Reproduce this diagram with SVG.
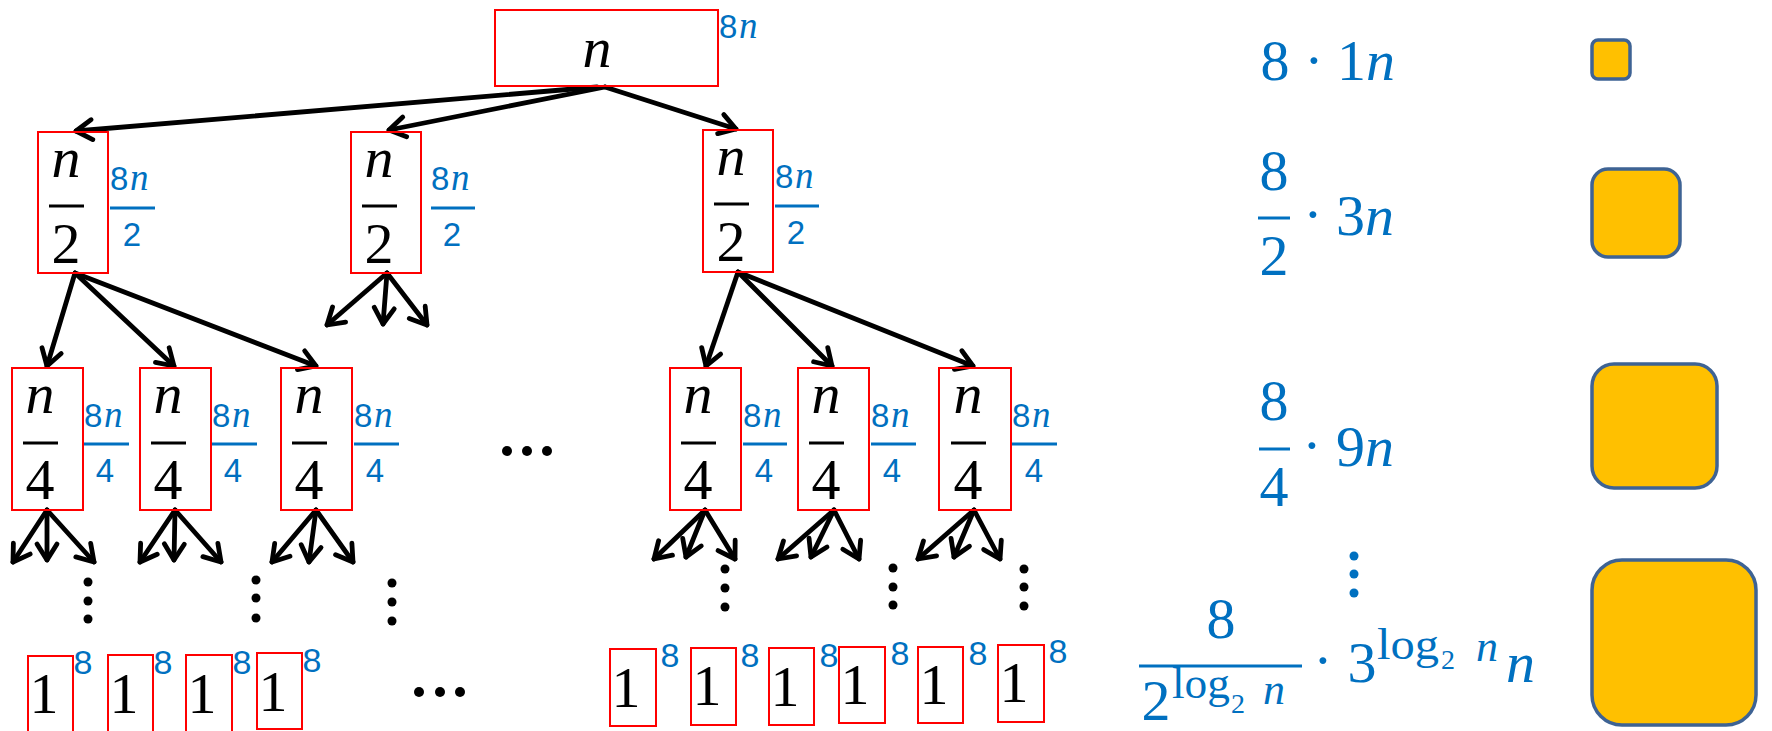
<svg xmlns="http://www.w3.org/2000/svg" width="1772" height="731" viewBox="0 0 1772 731">
  <style>
    .box { fill: none; stroke: #FF0000; stroke-width: 2; }
    .m { font-family: "Liberation Serif", "DejaVu Serif", serif; font-size: 58px; fill: #000; text-anchor: middle; }
    .it { font-style: italic; }
    .sm { font-family: "Liberation Sans", Arial, sans-serif; font-size: 33px; fill: #0070C0; }
    .smi { font-family: "Liberation Serif", serif; font-style: italic; font-size: 37px; fill: #0070C0; }
    .leaf8 { font-family: "Liberation Sans", Arial, sans-serif; font-size: 34px; fill: #0070C0; text-anchor: middle; }
    .bar { stroke: #000; stroke-width: 3; }
    .bbar { stroke: #0070C0; stroke-width: 3; }
    .arrow { fill: none; stroke: #000; stroke-width: 4.8; stroke-linecap: round; marker-end: url(#ah); }
    .dot { fill: #000; }
    .bdot { fill: #0070C0; }
    .sq { fill: #FFC000; stroke: #3E6394; stroke-width: 3.5; }
    .rf { font-family: "Liberation Serif", "DejaVu Serif", serif; fill: #0070C0; }
  </style>
  <defs>
    <marker id="ah" markerUnits="userSpaceOnUse" markerWidth="40" markerHeight="40" viewBox="-20 -20 40 40" refX="0" refY="0" orient="auto" overflow="visible">
      <path d="M-16,-10 L0,0 L-16,10" fill="none" stroke="#000" stroke-width="4.8" stroke-linecap="round" stroke-linejoin="round"/>
    </marker>
  </defs>

  <!-- connectors -->
  <g id="connectors">
    <line class="arrow" x1="597" y1="87" x2="76" y2="131"/>
    <line class="arrow" x1="605" y1="87" x2="389" y2="130"/>
    <line class="arrow" x1="605" y1="87" x2="736" y2="129"/>

    <line class="arrow" x1="75" y1="273" x2="47" y2="366"/>
    <line class="arrow" x1="75" y1="273" x2="174" y2="366"/>
    <line class="arrow" x1="75" y1="273" x2="316" y2="366"/>

    <line class="arrow" x1="387" y1="273" x2="327" y2="325"/>
    <line class="arrow" x1="387" y1="273" x2="383" y2="324"/>
    <line class="arrow" x1="387" y1="273" x2="427" y2="325"/>

    <line class="arrow" x1="738" y1="272" x2="706" y2="366"/>
    <line class="arrow" x1="738" y1="272" x2="832" y2="366"/>
    <line class="arrow" x1="738" y1="272" x2="973" y2="366"/>

    <line class="arrow" x1="47" y1="510" x2="13" y2="562"/>
    <line class="arrow" x1="47" y1="510" x2="47" y2="560"/>
    <line class="arrow" x1="47" y1="510" x2="94" y2="562"/>

    <line class="arrow" x1="175" y1="510" x2="140" y2="562"/>
    <line class="arrow" x1="175" y1="510" x2="174" y2="560"/>
    <line class="arrow" x1="175" y1="510" x2="221" y2="562"/>

    <line class="arrow" x1="316" y1="510" x2="272" y2="562"/>
    <line class="arrow" x1="316" y1="510" x2="309" y2="562"/>
    <line class="arrow" x1="316" y1="510" x2="353" y2="562"/>

    <line class="arrow" x1="705" y1="510" x2="654" y2="559"/>
    <line class="arrow" x1="705" y1="510" x2="686" y2="557"/>
    <line class="arrow" x1="705" y1="510" x2="735" y2="559"/>

    <line class="arrow" x1="834" y1="510" x2="778" y2="559"/>
    <line class="arrow" x1="834" y1="510" x2="811" y2="557"/>
    <line class="arrow" x1="834" y1="510" x2="859" y2="559"/>

    <line class="arrow" x1="974" y1="510" x2="918" y2="559"/>
    <line class="arrow" x1="974" y1="510" x2="954" y2="557"/>
    <line class="arrow" x1="974" y1="510" x2="1000" y2="559"/>
  </g>

  <!-- root -->
  <g id="node-root">
    <rect class="box" x="495" y="10" width="223" height="76"/>
    <text class="m it" x="597" y="67">n</text>
    <text x="719" y="38"><tspan class="sm">8</tspan><tspan class="smi" x="739">n</tspan></text>
  </g>

  <!-- level 1: n/2 -->
  <g id="node-a">
    <rect class="box" x="38" y="132" width="70" height="141"/>
    <text class="m it" x="66" y="177">n</text>
    <line class="bar" x1="49" y1="206" x2="84" y2="206"/>
    <text class="m" x="66" y="263">2</text>
    <text x="110" y="190"><tspan class="sm">8</tspan><tspan class="smi" x="130">n</tspan></text>
    <line class="bbar" x1="110" y1="208" x2="155" y2="208"/>
    <text class="sm" x="132" y="246" text-anchor="middle">2</text>
  </g>
  <g id="node-b">
    <rect class="box" x="351" y="132" width="70" height="141"/>
    <text class="m it" x="379" y="177">n</text>
    <line class="bar" x1="362" y1="206" x2="397" y2="206"/>
    <text class="m" x="379" y="263">2</text>
    <text x="431" y="190"><tspan class="sm">8</tspan><tspan class="smi" x="451">n</tspan></text>
    <line class="bbar" x1="431" y1="208" x2="475" y2="208"/>
    <text class="sm" x="452" y="246" text-anchor="middle">2</text>
  </g>
  <g id="node-c">
    <rect class="box" x="703" y="130" width="70" height="142"/>
    <text class="m it" x="731" y="175">n</text>
    <line class="bar" x1="714" y1="204" x2="749" y2="204"/>
    <text class="m" x="731" y="261">2</text>
    <text x="775" y="188"><tspan class="sm">8</tspan><tspan class="smi" x="795">n</tspan></text>
    <line class="bbar" x1="775" y1="206" x2="819" y2="206"/>
    <text class="sm" x="796" y="244" text-anchor="middle">2</text>
  </g>

  <!-- level 2: n/4 -->
  <g id="node-d">
    <rect class="box" x="12" y="368" width="71" height="142"/>
    <text class="m it" x="40" y="413">n</text>
    <line class="bar" x1="23" y1="443" x2="58" y2="443"/>
    <text class="m" x="40" y="499">4</text>
    <text x="84" y="427"><tspan class="sm">8</tspan><tspan class="smi" x="104">n</tspan></text>
    <line class="bbar" x1="84" y1="444" x2="129" y2="444"/>
    <text class="sm" x="105" y="482" text-anchor="middle">4</text>
  </g>
  <g id="node-e">
    <rect class="box" x="140" y="368" width="71" height="142"/>
    <text class="m it" x="168" y="413">n</text>
    <line class="bar" x1="151" y1="443" x2="186" y2="443"/>
    <text class="m" x="168" y="499">4</text>
    <text x="212" y="427"><tspan class="sm">8</tspan><tspan class="smi" x="232">n</tspan></text>
    <line class="bbar" x1="212" y1="444" x2="257" y2="444"/>
    <text class="sm" x="233" y="482" text-anchor="middle">4</text>
  </g>
  <g id="node-f">
    <rect class="box" x="281" y="368" width="71" height="142"/>
    <text class="m it" x="309" y="413">n</text>
    <line class="bar" x1="292" y1="443" x2="327" y2="443"/>
    <text class="m" x="309" y="499">4</text>
    <text x="354" y="427"><tspan class="sm">8</tspan><tspan class="smi" x="374">n</tspan></text>
    <line class="bbar" x1="354" y1="444" x2="399" y2="444"/>
    <text class="sm" x="375" y="482" text-anchor="middle">4</text>
  </g>
  <g id="node-g">
    <rect class="box" x="670" y="368" width="71" height="142"/>
    <text class="m it" x="698" y="413">n</text>
    <line class="bar" x1="681" y1="443" x2="716" y2="443"/>
    <text class="m" x="698" y="499">4</text>
    <text x="743" y="427"><tspan class="sm">8</tspan><tspan class="smi" x="763">n</tspan></text>
    <line class="bbar" x1="743" y1="444" x2="787" y2="444"/>
    <text class="sm" x="764" y="482" text-anchor="middle">4</text>
  </g>
  <g id="node-h">
    <rect class="box" x="798" y="368" width="71" height="142"/>
    <text class="m it" x="826" y="413">n</text>
    <line class="bar" x1="809" y1="443" x2="844" y2="443"/>
    <text class="m" x="826" y="499">4</text>
    <text x="871" y="427"><tspan class="sm">8</tspan><tspan class="smi" x="891">n</tspan></text>
    <line class="bbar" x1="871" y1="444" x2="916" y2="444"/>
    <text class="sm" x="892" y="482" text-anchor="middle">4</text>
  </g>
  <g id="node-i">
    <rect class="box" x="939" y="368" width="72" height="142"/>
    <text class="m it" x="968" y="413">n</text>
    <line class="bar" x1="951" y1="443" x2="986" y2="443"/>
    <text class="m" x="968" y="499">4</text>
    <text x="1012" y="427"><tspan class="sm">8</tspan><tspan class="smi" x="1032">n</tspan></text>
    <line class="bbar" x1="1012" y1="444" x2="1057" y2="444"/>
    <text class="sm" x="1034" y="482" text-anchor="middle">4</text>
  </g>

  <!-- ellipses between levels -->
  <g id="ellipses">
    <circle class="dot" cx="507" cy="451" r="5"/>
    <circle class="dot" cx="527" cy="451" r="5"/>
    <circle class="dot" cx="547" cy="451" r="5"/>

    <circle class="dot" cx="419" cy="692" r="5"/>
    <circle class="dot" cx="440" cy="692" r="5"/>
    <circle class="dot" cx="460" cy="692" r="5"/>

    <circle class="dot" cx="88" cy="582" r="4.5"/>
    <circle class="dot" cx="88" cy="601" r="4.5"/>
    <circle class="dot" cx="88" cy="619" r="4.5"/>
    <circle class="dot" cx="256" cy="580" r="4.5"/>
    <circle class="dot" cx="256" cy="598" r="4.5"/>
    <circle class="dot" cx="256" cy="618" r="4.5"/>
    <circle class="dot" cx="392" cy="583" r="4.5"/>
    <circle class="dot" cx="392" cy="602" r="4.5"/>
    <circle class="dot" cx="392" cy="621" r="4.5"/>

    <circle class="dot" cx="725" cy="569" r="4.5"/>
    <circle class="dot" cx="725" cy="588" r="4.5"/>
    <circle class="dot" cx="725" cy="607" r="4.5"/>
    <circle class="dot" cx="893" cy="568" r="4.5"/>
    <circle class="dot" cx="893" cy="587" r="4.5"/>
    <circle class="dot" cx="893" cy="605" r="4.5"/>
    <circle class="dot" cx="1024" cy="569" r="4.5"/>
    <circle class="dot" cx="1024" cy="587" r="4.5"/>
    <circle class="dot" cx="1024" cy="606" r="4.5"/>
  </g>

  <!-- leaves -->
  <g id="leaf-1">
    <rect class="box" x="28" y="656" width="45" height="85"/>
    <text class="m" x="44" y="713">1</text>
    <text class="leaf8" x="83" y="674">8</text>
  </g>
  <g id="leaf-2">
    <rect class="box" x="108" y="655" width="45" height="86"/>
    <text class="m" x="124" y="713">1</text>
    <text class="leaf8" x="163" y="674">8</text>
  </g>
  <g id="leaf-3">
    <rect class="box" x="186" y="655" width="46" height="86"/>
    <text class="m" x="202" y="713">1</text>
    <text class="leaf8" x="242" y="674">8</text>
  </g>
  <g id="leaf-4">
    <rect class="box" x="257" y="653" width="45" height="76"/>
    <text class="m" x="273" y="711">1</text>
    <text class="leaf8" x="312" y="672">8</text>
  </g>
  <g id="leaf-5">
    <rect class="box" x="610" y="649" width="46" height="77"/>
    <text class="m" x="626" y="707">1</text>
    <text class="leaf8" x="670" y="667">8</text>
  </g>
  <g id="leaf-6">
    <rect class="box" x="691" y="648" width="45" height="77"/>
    <text class="m" x="707" y="705">1</text>
    <text class="leaf8" x="750" y="667">8</text>
  </g>
  <g id="leaf-7">
    <rect class="box" x="769" y="648" width="45" height="77"/>
    <text class="m" x="785" y="706">1</text>
    <text class="leaf8" x="829" y="667">8</text>
  </g>
  <g id="leaf-8">
    <rect class="box" x="839" y="647" width="46" height="76"/>
    <text class="m" x="855" y="704">1</text>
    <text class="leaf8" x="900" y="665">8</text>
  </g>
  <g id="leaf-9">
    <rect class="box" x="918" y="647" width="45" height="76"/>
    <text class="m" x="934" y="704">1</text>
    <text class="leaf8" x="978" y="665">8</text>
  </g>
  <g id="leaf-10">
    <rect class="box" x="998" y="645" width="46" height="77"/>
    <text class="m" x="1014" y="702">1</text>
    <text class="leaf8" x="1058" y="663">8</text>
  </g>

  <!-- per-level cost sums -->
  <g id="sum-0">
    <text class="rf" font-size="58" text-anchor="middle" x="1275" y="80">8</text>
    <text class="rf" font-size="58" text-anchor="middle" x="1314" y="80">·</text>
    <text class="rf" font-size="58" x="1337" y="80">1<tspan font-style="italic">n</tspan></text>
  </g>
  <g id="sum-1">
    <text class="rf" font-size="58" text-anchor="middle" x="1274" y="190">8</text>
    <line class="bbar" x1="1258" y1="218" x2="1290" y2="218"/>
    <text class="rf" font-size="58" text-anchor="middle" x="1274" y="275">2</text>
    <text class="rf" font-size="58" text-anchor="middle" x="1313" y="234">·</text>
    <text class="rf" font-size="58" x="1336" y="235">3<tspan font-style="italic">n</tspan></text>
  </g>
  <g id="sum-2">
    <text class="rf" font-size="58" text-anchor="middle" x="1274" y="420">8</text>
    <line class="bbar" x1="1259" y1="449" x2="1290" y2="449"/>
    <text class="rf" font-size="58" text-anchor="middle" x="1274" y="506">4</text>
    <text class="rf" font-size="58" text-anchor="middle" x="1312" y="465">·</text>
    <text class="rf" font-size="58" x="1336" y="466">9<tspan font-style="italic">n</tspan></text>
  </g>
  <g id="sum-dots">
    <circle class="bdot" cx="1354" cy="556" r="4.5"/>
    <circle class="bdot" cx="1354" cy="574" r="4.5"/>
    <circle class="bdot" cx="1354" cy="593" r="4.5"/>
  </g>
  <g id="sum-last">
    <text class="rf" font-size="58" text-anchor="middle" x="1221" y="638">8</text>
    <line class="bbar" x1="1139" y1="666" x2="1302" y2="666"/>
    <text class="rf" font-size="58" text-anchor="middle" x="1156" y="720">2</text>
    <text class="rf" font-size="45" x="1172" y="698" textLength="58" lengthAdjust="spacingAndGlyphs">log</text>
    <text class="rf" font-size="28" x="1231" y="713">2</text>
    <text class="rf" font-size="44" font-style="italic" x="1263" y="704">n</text>
    <text class="rf" font-size="58" text-anchor="middle" x="1323" y="680">·</text>
    <text class="rf" font-size="58" text-anchor="middle" x="1362" y="682">3</text>
    <text class="rf" font-size="45" x="1377" y="659" textLength="62" lengthAdjust="spacingAndGlyphs">log</text>
    <text class="rf" font-size="28" x="1441" y="669">2</text>
    <text class="rf" font-size="44" font-style="italic" x="1476" y="661">n</text>
    <text class="rf" font-size="58" font-style="italic" x="1506" y="682">n</text>
  </g>

  <!-- growing squares -->
  <g id="square-0"><rect class="sq" x="1592" y="40" width="38" height="39" rx="6"/></g>
  <g id="square-1"><rect class="sq" x="1592" y="169" width="88" height="88" rx="16"/></g>
  <g id="square-2"><rect class="sq" x="1592" y="364" width="125" height="124" rx="22"/></g>
  <g id="square-3"><rect class="sq" x="1592" y="560" width="164" height="165" rx="30"/></g>
</svg>
